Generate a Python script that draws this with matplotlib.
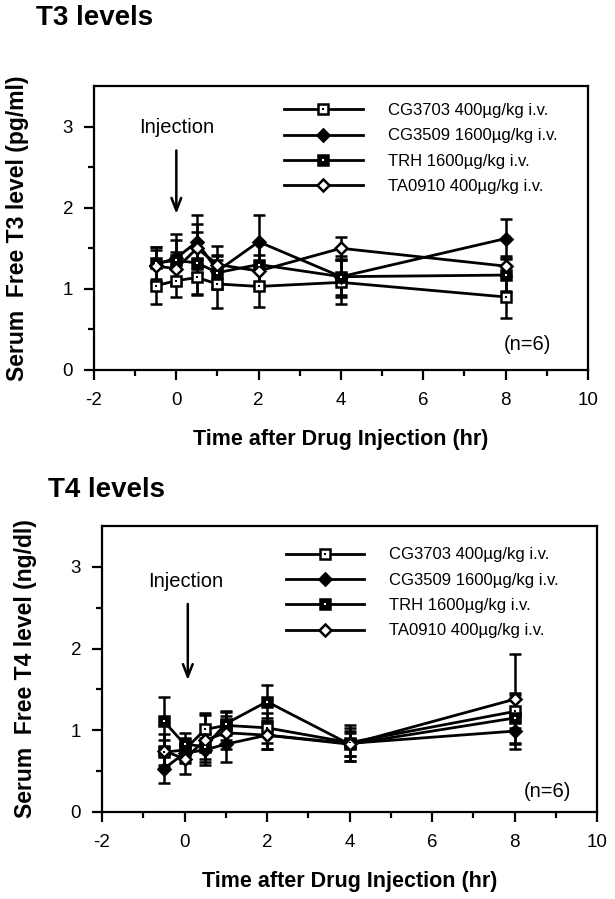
import numpy as np
import matplotlib
matplotlib.use("Agg")
import matplotlib.pyplot as plt
from matplotlib.legend_handler import HandlerTuple

plt.rcParams['font.family'] = ['Liberation Sans', 'DejaVu Sans']
plt.rcParams['axes.unicode_minus'] = False

# time points (hr after injection)
t = [-0.5, 0, 0.5, 1, 2, 4, 8]

labels = ["CG3703 400\u00b5g/kg i.v.", "CG3509 1600\u00b5g/kg i.v.",
          "TRH 1600\u00b5g/kg i.v.", "TA0910 400\u00b5g/kg i.v."]

# T3 levels (pg/ml), mean and error
t3_cg3703 = [1.04, 1.10, 1.14, 1.06, 1.03, 1.08, 0.90]
t3_cg3703_err = [0.23, 0.20, 0.21, 0.29, 0.25, 0.27, 0.26]
t3_cg3509 = [1.30, 1.38, 1.58, 1.22, 1.58, 1.15, 1.62]
t3_cg3509_err = [0.22, 0.30, 0.33, 0.20, 0.33, 0.22, 0.24]
t3_trh = [1.32, 1.35, 1.32, 1.20, 1.30, 1.15, 1.17]
t3_trh_err = [0.20, 0.25, 0.38, 0.20, 0.25, 0.25, 0.20]
t3_ta0910 = [1.28, 1.25, 1.50, 1.30, 1.22, 1.50, 1.28]
t3_ta0910_err = [0.20, 0.20, 0.30, 0.23, 0.20, 0.14, 0.12]

# T4 levels (ng/dl)
t4_cg3703 = [0.73, 0.76, 1.01, 1.06, 1.03, 0.85, 1.23]
t4_cg3703_err = [0.15, 0.15, 0.20, 0.18, 0.18, 0.22, 0.20]
t4_cg3509 = [0.53, 0.72, 0.76, 0.83, 0.94, 0.84, 0.99]
t4_cg3509_err = [0.17, 0.12, 0.15, 0.22, 0.17, 0.15, 0.22]
t4_trh = [1.11, 0.83, 0.80, 1.08, 1.35, 0.83, 1.15]
t4_trh_err = [0.30, 0.14, 0.15, 0.14, 0.20, 0.14, 0.31]
t4_ta0910 = [0.75, 0.65, 0.88, 0.97, 0.94, 0.83, 1.38]
t4_ta0910_err = [0.20, 0.18, 0.31, 0.20, 0.17, 0.20, 0.55]

xticks = [-2, 0, 2, 4, 6, 8, 10]
yticks = [0, 1, 2, 3]

# marker style per series: (marker, face, size, centre dot colour)
styles = [("s", "white", 7.5, "black"),
          ("D", "black", 6.5, None),
          ("s", "black", 7.5, "white"),
          ("D", "white", 6.5, None)]


def draw_panel(ax, series, errs, ylabel, legend_anchor, note_xy):
    handles = []
    for y, e, (m, fc, ms, dot) in zip(series, errs, styles):
        cont = ax.errorbar(t, y, yerr=e, color="black", lw=2.0, elinewidth=1.8,
                           capsize=4.5, capthick=2.2, marker=m, ms=ms,
                           mfc=fc, mec="black", mew=1.8, zorder=3)
        line = cont.lines[0]
        if dot is not None:
            d, = ax.plot(t, y, ls="none", marker="s", ms=1.8, mfc=dot,
                         mec=dot, mew=0, zorder=4)
            handles.append((line, d))
        else:
            handles.append(line)

    ax.set_xlim(-2, 10)
    ax.set_ylim(0, 3.5)
    ax.set_xticks(xticks)
    ax.set_xticks(np.arange(-1, 10, 2), minor=True)
    ax.set_yticks(yticks)
    ax.set_yticks([0.5, 1.5, 2.5], minor=True)
    ax.tick_params(which="major", direction="out", length=7, width=1.6,
                   labelsize=13.5, top=False, right=False)
    ax.tick_params(axis="x", which="major", pad=9)
    ax.tick_params(axis="y", which="major", pad=8)
    ax.tick_params(which="minor", direction="out", length=4, width=1.6,
                   top=False, right=False)
    for s in ax.spines.values():
        s.set_linewidth(1.6)

    ax.set_xlabel("Time after Drug Injection (hr)", fontsize=15.5,
                  fontweight="bold", labelpad=14)
    ax.set_ylabel(ylabel, fontsize=16.5, fontweight="bold", labelpad=24)

    ax.legend(handles, labels, loc="upper left", bbox_to_anchor=legend_anchor,
              frameon=False, fontsize=12, handlelength=4.7,
              handletextpad=1.5, labelspacing=0.62, borderpad=0,
              borderaxespad=0, handler_map={tuple: HandlerTuple(ndivide=1)})

    ax.text(note_xy[0], note_xy[1], "(n=6)", fontsize=14.5,
            ha="center", va="center")


fig = plt.figure(figsize=(6.15, 8.99), dpi=100)
ax1 = fig.add_axes([94 / 615, 1 - 370 / 899, 494 / 615, 284 / 899])
ax2 = fig.add_axes([102 / 615, 1 - 812 / 899, 495 / 615, 286 / 899])

draw_panel(ax1, [t3_cg3703, t3_cg3509, t3_trh, t3_ta0910],
           [t3_cg3703_err, t3_cg3509_err, t3_trh_err, t3_ta0910_err],
           "Serum  Free T3 level (pg/ml)", (0.385, 0.94), (8.52, 0.31))
draw_panel(ax2, [t4_cg3703, t4_cg3509, t4_trh, t4_ta0910],
           [t4_cg3703_err, t4_cg3509_err, t4_trh_err, t4_ta0910_err],
           "Serum  Free T4 level (ng/dl)", (0.372, 0.925), (8.81, 0.25))

# injection arrows
ax1.annotate("", xy=(0.0, 1.89), xytext=(0.0, 2.74),
             arrowprops=dict(arrowstyle="->,head_length=0.9,head_width=0.35",
                             lw=1.8, color="black"))
ax1.text(-0.9, 2.99, "Injection", fontsize=14.5, ha="left", va="center")
ax2.annotate("", xy=(0.08, 1.58), xytext=(0.08, 2.58),
             arrowprops=dict(arrowstyle="->,head_length=0.9,head_width=0.35",
                             lw=1.8, color="black"))
ax2.text(-0.88, 2.82, "Injection", fontsize=14.5, ha="left", va="center")

fig.text(36 / 615, 1 - 25 / 899, "T3 levels", fontsize=20, fontweight="bold",
         va="baseline")
fig.text(48 / 615, 1 - 497 / 899, "T4 levels", fontsize=20, fontweight="bold",
         va="baseline")

fig.savefig("out.png", dpi=100)
